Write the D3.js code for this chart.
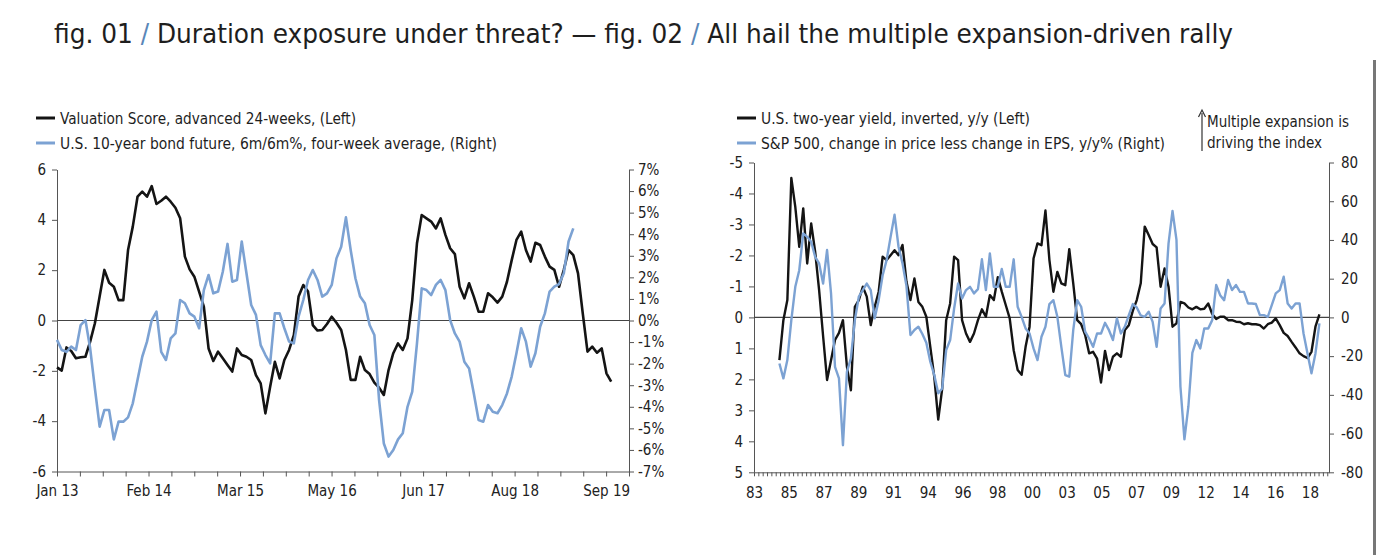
<!DOCTYPE html>
<html>
<head>
<meta charset="utf-8">
<script src="https://cdn.jsdelivr.net/npm/d3@7"></script>
<style>
  body { margin: 0; background: #fff; }
  text { font-family: "DejaVu Sans Condensed", "DejaVu Sans", sans-serif; }
</style>
</head>
<body>
<div id="chart"></div>
<script>
// ---- fig. 01 data (3-week steps from Jan 2013) ----
var leftTickLabels = ["Jan 13", "Feb 14", "Mar 15", "May 16", "Jun 17", "Aug 18", "Sep 19"];

var valuationScore = [
  -1.86,-1.99,-1.07,-1.21,-1.50,-1.46,-1.44,-0.84,-0.11,0.95,
  2.01,1.50,1.34,0.81,0.81,2.80,3.73,4.92,5.12,4.92,
  5.34,4.63,4.76,4.92,4.72,4.48,4.06,2.54,2.03,1.74,
  1.15,0.55,-1.11,-1.61,-1.24,-1.50,-1.77,-2.03,-1.11,-1.37,
  -1.44,-1.57,-2.17,-2.50,-3.69,-2.63,-1.64,-2.30,-1.57,-1.17,
  -0.58,0.95,1.41,1.15,-0.18,-0.40,-0.38,-0.14,0.15,-0.09,
  -0.38,-1.17,-2.36,-2.36,-1.44,-1.97,-2.13,-2.47,-2.67,-2.96,
  -1.97,-1.30,-0.91,-1.17,-0.71,0.81,3.07,4.19,4.06,3.93,
  3.66,4.06,3.40,2.87,2.64,1.34,0.88,1.48,0.95,0.35,
  0.35,1.08,0.92,0.71,0.95,1.54,2.40,3.20,3.53,2.80,
  2.34,3.09,3.00,2.54,2.14,2.01,1.34,2.01,2.80,2.60,
  1.87,0.28,-1.24,-1.04,-1.28,-1.11,-2.10,-2.43
];

var bondFuture = [
  -0.90,-1.37,-1.45,-1.21,-1.37,-0.21,0.02,-1.29,-3.15,-4.92,
  -4.15,-4.15,-5.51,-4.69,-4.69,-4.49,-3.84,-2.76,-1.68,-0.98,
  0.02,0.41,-1.45,-1.83,-0.83,-0.60,0.95,0.80,0.33,0.18,
  -0.36,1.41,2.11,1.26,1.34,2.26,3.55,1.80,1.88,3.66,
  2.19,0.72,0.26,-1.14,-1.60,-1.99,0.33,0.33,-0.36,-0.98,
  -1.06,0.18,0.95,1.88,2.34,1.88,1.11,1.26,1.65,2.88,
  3.42,4.78,3.27,1.96,1.11,0.80,-0.21,-0.67,-3.69,-5.70,
  -6.31,-6.00,-5.51,-5.23,-4.00,-3.30,-1.06,1.49,1.41,1.18,
  1.65,1.88,1.41,0.02,-0.60,-0.98,-1.91,-2.22,-3.38,-4.61,
  -4.69,-3.92,-4.23,-4.30,-3.92,-3.38,-2.60,-1.52,-0.36,-0.98,
  -2.14,-1.52,-0.29,0.33,1.34,1.57,1.69,2.19,3.66,4.27
];

// ---- fig. 02 data (quarterly from mid 1984) ----
var rightTickLabels = ["83","85","87","89","91","94","96","98","00","03","05","07","09","12","14","16","18"];

var twoYearYield = [
  1.38,0.09,-0.56,-4.5,-3.57,-2.28,-3.52,-1.74,-3.03,-2.12,
  -0.88,0.60,2.02,1.38,0.73,0.50,0.09,1.59,2.35,-0.34,
  -0.56,-0.99,-0.67,0.25,-0.34,-0.83,-1.96,-1.85,-2.01,-2.17,
  -2.01,-2.34,-1.15,-0.56,-1.26,-0.50,-0.34,-0.02,0.95,1.92,
  3.3,2.3,0.09,-0.45,-1.96,-1.85,0.09,0.52,0.79,0.52,
  0.09,-0.26,-0.02,-0.72,-0.56,-1.3,-0.83,-0.40,0.03,1.06,
  1.70,1.85,0.95,0.30,-1.90,-2.39,-2.33,-3.45,-1.85,-0.83,
  -1.47,-1.10,-1.04,-2.2,-1.10,0.09,0.22,0.57,1.16,1.11,
  1.33,2.1,1.08,1.70,1.27,1.16,1.27,0.41,0.25,-0.21,
  -0.56,-1.10,-2.93,-2.66,-2.37,-2.26,-0.99,-1.58,-0.99,0.30,
  0.19,-0.50,-0.45,-0.32,-0.26,-0.34,-0.26,-0.28,-0.45,-0.11,
  0.05,-0.02,-0.02,0.09,0.09,0.14,0.15,0.22,0.19,0.22,
  0.22,0.25,0.36,0.22,0.17,0.03,0.25,0.50,0.60,0.79,
  0.97,1.16,1.25,1.31,1.11,0.30,-0.10
];

var spxMultiple = [
  -23.8,-31.5,-22.0,-1.4,15.8,24.4,43.4,41.6,39.1,31.3,
  27.9,17.5,34.8,12.4,-25.5,-31.5,-66,-28.1,-21.2,-1.4,
  10.7,14.1,17.5,14.1,-0.5,8.9,21.8,29.6,41.6,53,
  36.5,27.9,16.2,-9.1,-6.5,-4.8,-8.6,-13.1,-22.9,-29.8,
  -39.2,-36.7,-16.9,-11.7,4.6,17.5,9.8,14.1,15.8,12.4,
  14.6,30,14.1,33,15.8,15.8,25,15.8,15.8,30,
  5.5,0.3,-5.7,-8.3,-16.0,-22.0,-10.0,-4.8,6.9,8.9,
  0.3,-15.2,-29.8,-30.6,-6.6,8.9,5.5,-7.4,-10.9,-15.2,
  -8.3,-8.3,-2.8,-6.6,-11.7,-0.5,-8.3,-4.8,1.2,6.9,
  5.1,1.0,0.3,2.9,-2.3,-15.2,4.6,7.2,38.2,55,
  40,-35.8,-63,-46,-18.3,-11.7,-16.0,-5.7,-5.7,-1.4,
  16.7,11.5,8.9,19.3,14.1,16.7,13.2,13.2,7.2,7.2,
  6.9,1.2,1.2,0.3,6.4,12.4,14.1,21,7.2,4.6,
  7.2,7.2,-8.3,-18.6,-28.9,-18.6,-3.1
];

var BLACK = "#141414", BLUE = "#7ca2d3", AXIS = "#555";

// plain hyphen minus, like the original
function num(d) { return String(d); }

var svg = d3.select("#chart").append("svg")
    .attr("width", 1376)
    .attr("height", 555);

// title
var title = svg.append("text")
    .attr("x", 54).attr("y", 43)
    .attr("font-size", 27)
    .attr("fill", "#1e1e1e")
    .attr("textLength", 1179)
    .attr("lengthAdjust", "spacingAndGlyphs");
[["fig. 01 ", null], ["/", BLUE], [" Duration exposure under threat? \u2014 fig. 02 ", null],
 ["/", BLUE], [" All hail the multiple expansion-driven rally", null]].forEach(function(p){
    var t = title.append("tspan").text(p[0]);
    if (p[1]) t.attr("fill", "#5a87b8");
});

// right frame edge
svg.append("rect").attr("x", 1373).attr("y", 60).attr("width", 3).attr("height", 495).attr("fill", "#777");

function legendItem(x, y, color, label, len) {
    svg.append("line")
        .attr("x1", x).attr("x2", x + 19).attr("y1", y).attr("y2", y)
        .attr("stroke", color).attr("stroke-width", 3);
    svg.append("text")
        .attr("x", x + 24).attr("y", y + 6)
        .attr("font-size", 16).attr("fill", "#1e1e1e")
        .attr("textLength", len).attr("lengthAdjust", "spacingAndGlyphs")
        .text(label);
}

function styleAxis(g) {
    g.selectAll("path, line").attr("stroke", AXIS);
    g.selectAll("text").attr("font-size", 15).attr("fill", "#222")
        .attr("font-family", "'DejaVu Sans Condensed', 'DejaVu Sans', sans-serif");
}

// ================= fig. 01 =================
(function(){
    var x0 = 57, x1 = 629, yTop = 169.5, yBot = 471.5;
    var start = new Date(2013, 0, 1), end = new Date(2019, 11, 12);
    var x = d3.scaleTime().domain([start, end]).range([x0, x1]);
    var yL = d3.scaleLinear().domain([-6, 6]).range([yBot, yTop]);
    var yR = d3.scaleLinear().domain([-7, 7]).range([yBot, yTop]);

    var step = (end - start) / 25;
    var ticks = d3.range(26).map(function(k){ return new Date(+start + k * step); });

    legendItem(36, 118, BLACK, "Valuation Score, advanced 24-weeks, (Left)", 296);
    legendItem(36, 143, BLUE, "U.S. 10-year bond future, 6m/6m%, four-week average, (Right)", 437);

    var gx = svg.append("g").attr("transform", "translate(0," + yBot + ")")
        .call(d3.axisBottom(x).tickValues(ticks).tickSize(5).tickSizeOuter(0).tickPadding(9)
            .tickFormat(function(d, k){ return k % 4 === 0 ? leftTickLabels[k / 4] : ""; }));
    styleAxis(gx);

    var gl = svg.append("g").attr("transform", "translate(" + x0 + ",0)")
        .call(d3.axisLeft(yL).tickValues(d3.range(-6, 7, 2)).tickSize(5).tickSizeOuter(0).tickPadding(6)
            .tickFormat(num));
    styleAxis(gl);

    var gr = svg.append("g").attr("transform", "translate(" + x1 + ",0)")
        .call(d3.axisRight(yR).tickValues(d3.range(-7, 8, 1)).tickSize(5).tickSizeOuter(0).tickPadding(4)
            .tickFormat(function(d){ return num(d) + "%"; }));
    styleAxis(gr);

    svg.append("line")
        .attr("x1", x0).attr("x2", x1).attr("y1", yL(0)).attr("y2", yL(0))
        .attr("stroke", "#444").attr("stroke-width", 1.2);

    function dateAt(i){ return d3.timeDay.offset(start, 21 * i); }

    svg.append("path").datum(valuationScore)
        .attr("fill", "none").attr("stroke", BLACK).attr("stroke-width", 2.6)
        .attr("stroke-linejoin", "round")
        .attr("d", d3.line().x(function(d, i){ return x(dateAt(i)); }).y(function(d){ return yL(d); }));

    svg.append("path").datum(bondFuture)
        .attr("fill", "none").attr("stroke", BLUE).attr("stroke-width", 2.6)
        .attr("stroke-linejoin", "round")
        .attr("d", d3.line().x(function(d, i){ return x(dateAt(i)); }).y(function(d){ return yR(d); }));
})();

// ================= fig. 02 =================
(function(){
    var x0 = 754, x1 = 1329, yTop = 162.5, yBot = 472.3;
    var labelStep = 2.1875, firstYear = 1983;
    var x = d3.scaleLinear().domain([firstYear, firstYear + 16.55 * labelStep]).range([x0, x1]);
    var yL = d3.scaleLinear().domain([-5, 5]).range([yTop, yBot]);
    var yR = d3.scaleLinear().domain([-80, 80]).range([yBot, yTop]);

    legendItem(737, 118, BLACK, "U.S. two-year yield, inverted, y/y (Left)", 269);
    legendItem(737, 143, BLUE, "S&P 500, change in price less change in EPS, y/y% (Right)", 404);

    // annotation
    svg.append("line").attr("x1", 1202).attr("x2", 1202).attr("y1", 151).attr("y2", 113)
        .attr("stroke", "#333").attr("stroke-width", 1.2);
    svg.append("path").attr("d", "M1198.5,117 L1202,110 L1205.5,117")
        .attr("fill", "none").attr("stroke", "#333").attr("stroke-width", 1.2);
    svg.append("text").attr("x", 1207).attr("y", 127).attr("font-size", 16).attr("fill", "#1e1e1e")
        .attr("textLength", 142).attr("lengthAdjust", "spacingAndGlyphs").text("Multiple expansion is");
    svg.append("text").attr("x", 1207).attr("y", 148).attr("font-size", 16).attr("fill", "#1e1e1e")
        .attr("textLength", 115).attr("lengthAdjust", "spacingAndGlyphs").text("driving the index");

    var minor = d3.range(0, 133).map(function(k){ return firstYear + k * labelStep / 8; });
    var gx = svg.append("g").attr("transform", "translate(0," + yBot + ")")
        .call(d3.axisBottom(x).tickValues(minor).tickSize(4).tickSizeOuter(0).tickPadding(11)
            .tickFormat(function(d, k){ return k % 8 === 0 ? rightTickLabels[k / 8] : ""; }));
    styleAxis(gx);

    var gl = svg.append("g").attr("transform", "translate(" + x0 + ",0)")
        .call(d3.axisLeft(yL).tickValues(d3.range(-5, 6, 1)).tickSize(5).tickSizeOuter(0).tickPadding(6)
            .tickFormat(num));
    styleAxis(gl);

    var gr = svg.append("g").attr("transform", "translate(" + x1 + ",0)")
        .call(d3.axisRight(yR).tickValues(d3.range(-80, 81, 20)).tickSize(5).tickSizeOuter(0).tickPadding(7)
            .tickFormat(num));
    styleAxis(gr);

    svg.append("line")
        .attr("x1", x0).attr("x2", x1).attr("y1", yL(0)).attr("y2", yL(0))
        .attr("stroke", "#444").attr("stroke-width", 1.2);

    function yearAt(i){ return 1984.6 + 0.25 * i; }

    svg.append("path").datum(twoYearYield)
        .attr("fill", "none").attr("stroke", BLACK).attr("stroke-width", 2.4)
        .attr("stroke-linejoin", "round")
        .attr("d", d3.line().x(function(d, i){ return x(yearAt(i)); }).y(function(d){ return yL(d); }));

    svg.append("path").datum(spxMultiple)
        .attr("fill", "none").attr("stroke", BLUE).attr("stroke-width", 2.4)
        .attr("stroke-linejoin", "round")
        .attr("d", d3.line().x(function(d, i){ return x(yearAt(i)); }).y(function(d){ return yR(d); }));
})();
</script>
</body>
</html>
